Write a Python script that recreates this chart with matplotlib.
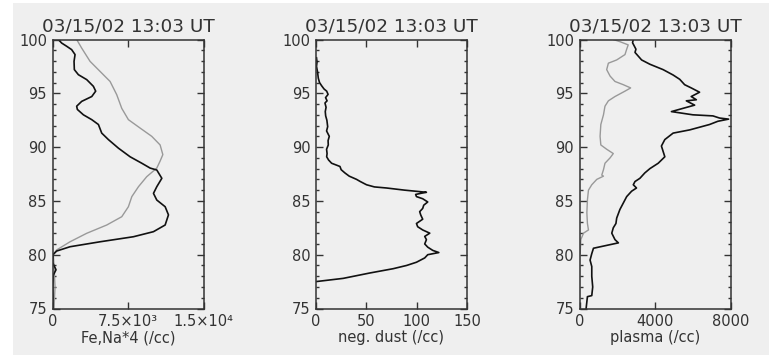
import matplotlib
matplotlib.use("Agg")
import matplotlib.pyplot as plt
from matplotlib.ticker import MultipleLocator, FixedLocator
from matplotlib.patches import Rectangle

# panel 1: Fe (black) and Na*4 (gray) vs altitude
fe_alt = [100, 99.67, 99.37, 99.06, 98.6, 97.97, 97.2, 96.73, 96.27, 95.65, 95.2, 94.7, 94.25,
          93.8, 93.5, 93.0, 92.55, 92.1, 91.3, 90.7, 89.9, 89.1, 88.5, 88.05, 87.87, 87.1,
          86.32, 85.7, 85.08, 84.46, 83.7, 82.76, 82.14, 81.67, 81.2, 80.74, 80.34, 80.03,
          79.3, 78.6, 78.1, 77.0, 76.0, 75.0]
fe_val = [580, 910, 1410, 1900, 2240, 2140, 2170, 2570, 3400, 4060, 4290, 3900, 2900,
          2400, 2470, 3070, 3900, 4560, 4890, 5550, 6550, 7710, 8870, 9700, 10360, 10860,
          10360, 10030, 10360, 11190, 11520, 11190, 10030, 8040, 4720, 1740, 410, 80,
          0, 350, 80, 30, 60, 30]
na_alt = [100, 99.2, 97.97, 97.04, 96.1, 94.87, 93.6, 92.55, 91.77, 91.0, 90.2, 89.3, 88.7,
          88.05, 87.25, 86.32, 85.4, 84.46, 83.53, 82.76, 81.99, 81.2, 80.44, 80.03, 79.0,
          78.0, 77.0, 76.0, 75.0]
na_val = [2400, 2900, 3730, 4720, 5720, 6380, 6880, 7540, 8700, 9860, 10690, 10960, 10690,
          10360, 9360, 8540, 7880, 7540, 6880, 5390, 3400, 1740, 410, 80, 150, 200, 250,
          200, 150]

# panel 2: negative dust
dust_alt = [98.3, 97.9, 97.5, 97.0, 96.4, 96.0, 95.7, 95.4, 95.2, 94.9, 94.6, 94.3, 94.1, 93.7,
            93.3, 92.9, 92.5, 91.9, 91.5, 91.0, 90.6, 90.2, 89.8, 89.4, 89.1, 88.8, 88.5, 88.2,
            87.9, 87.6, 87.3, 87.0, 86.8, 86.5, 86.3, 86.2, 86.0, 85.8, 85.7, 85.6, 85.4, 85.2,
            84.9, 84.6, 84.3, 84.0, 83.7, 83.3, 82.9, 82.6, 82.3, 82.0, 81.7, 81.4, 81.0, 80.7,
            80.4, 80.2, 80.0, 79.7, 79.3, 79.0, 78.7, 78.3, 77.8, 77.5]
dust_val = [0.5, 1.0, 0.5, 1.5, 2.3, 3.5, 5.6, 8.0, 10.6, 12.0, 9.5, 11.0, 8.9, 10.0,
            9.2, 9.6, 10.8, 11.6, 10.5, 13.2, 12.0, 12.2, 10.5, 11.0, 10.6, 12.5, 15.5, 23.8,
            25.0, 28.7, 33.0, 40.3, 44.0, 50.2, 58.0, 70.0, 88.0, 109.7, 104.0, 99.0, 99.8, 106.0,
            111.0, 107.0, 106.0, 103.0, 104.0, 106.0, 99.8, 101.0, 106.0, 113.0, 108.0, 109.7, 108.0, 111.0,
            116.0, 122.0, 111.0, 108.0, 99.8, 90.0, 76.7, 53.5, 27.0, 0.0]

# panel 3: plasma, electrons (black) and ions (gray)
ele_alt = [100, 99.7, 99.1, 98.8, 98.1, 97.7, 97.2, 96.7, 96.3, 95.8, 95.5, 95.1, 94.7, 94.4,
           94.3, 93.9, 93.6, 93.3, 93.0, 92.9, 92.7, 92.6, 92.4, 92.1, 91.6, 91.3, 90.7, 90.1,
           89.6, 89.1, 88.5, 88.0, 87.6, 87.1, 86.8, 86.5, 86.2, 85.9, 85.4, 84.8, 84.2, 83.4,
           82.9, 82.5, 82.0, 81.4, 81.1, 80.9, 80.6, 80.1, 79.5, 78.9, 78.0, 77.0, 76.2, 76.1, 75.0]
ele_val = [2850, 2810, 2990, 2940, 3290, 3730, 4430, 4960, 5310, 5570, 5920, 6360, 5920, 6190,
           5660, 6100, 5480, 4870, 6010, 7070, 7420, 7900, 7330, 6890, 5840, 4960, 4520, 4340,
           4430, 4520, 4170, 3730, 3460, 3200, 2940, 2850, 3020, 2760, 2500, 2320, 2140, 1970,
           1930, 1790, 1710, 1880, 2060, 1530, 740, 650, 560, 650, 650, 700, 650, 420, 350]
ion_alt = [100, 99.8, 99.5, 99.1, 98.6, 98.1, 97.8, 97.2, 96.6, 96.1, 95.8, 95.5, 95.2, 94.7,
           94.3, 93.8, 93.0, 92.1, 91.0, 90.2, 89.8, 89.4, 89.0, 88.5, 87.9, 87.4, 87.3, 87.0,
           86.5, 86.0, 85.1, 83.9, 82.9, 82.3, 82.0, 81.4, 80.1]
ion_val = [1790, 2140, 2580, 2500, 2410, 1970, 1530, 1440, 1620, 1880, 2320, 2710, 2410, 1880,
           1530, 1350, 1270, 1130, 1090, 1130, 1440, 1790, 1620, 1350, 1270, 1180, 1270, 915,
           650, 475, 420, 390, 420, 475, 210, 70, 35]

title = "03/15/02 13:03 UT"
txt = "#333333"

fig = plt.figure(figsize=(7.69, 3.55), dpi=100)
fig.patch.set_facecolor("white")
fig.patches.append(Rectangle((13 / 769, 0), 1, (355 - 3) / 355, transform=fig.transFigure,
                             facecolor="#efefef", edgecolor="none", zorder=-10))

lefts = [52.5, 316, 579.5]
axes = [fig.add_axes([l / 769, 46.5 / 355, 151 / 769, 269 / 355]) for l in lefts]

for ax in axes:
    ax.set_facecolor("none")
    ax.set_ylim(75, 100)
    ax.yaxis.set_major_locator(MultipleLocator(5))
    ax.yaxis.set_minor_locator(MultipleLocator(1))
    ax.tick_params(which="both", direction="in", top=True, right=True, colors=txt,
                   labelsize=10.5, labelcolor=txt, width=1)
    ax.tick_params(which="major", length=5, pad=4)
    ax.tick_params(which="minor", length=2.5)
    for s in ax.spines.values():
        s.set_color(txt)
        s.set_linewidth(1.1)
    ax.set_title(title, fontsize=13.2, color=txt, pad=6)

ax1, ax2, ax3 = axes

ax1.plot(na_val, na_alt, color="#999999", lw=1.0)
ax1.plot(fe_val, fe_alt, color="#111111", lw=1.2)
ax1.set_xlim(0, 15000)
ax1.xaxis.set_major_locator(FixedLocator([0, 7500, 15000]))
ax1.set_xticklabels(["0", "7.5×10³", "1.5×10⁴"])
ax1.set_xlabel("Fe,Na*4 (/cc)", fontsize=10.5, color=txt, labelpad=1)

ax2.plot(dust_val, dust_alt, color="#111111", lw=1.2)
ax2.set_xlim(0, 150)
ax2.xaxis.set_major_locator(FixedLocator([0, 50, 100, 150]))
ax2.set_xlabel("neg. dust (/cc)", fontsize=10.5, color=txt, labelpad=1)

ax3.plot(ion_val, ion_alt, color="#999999", lw=1.0)
ax3.plot(ele_val, ele_alt, color="#111111", lw=1.2)
ax3.set_xlim(0, 8000)
ax3.xaxis.set_major_locator(FixedLocator([0, 4000, 8000]))
ax3.set_xlabel("plasma (/cc)", fontsize=10.5, color=txt, labelpad=1)

fig.savefig("out.png", dpi=100)
